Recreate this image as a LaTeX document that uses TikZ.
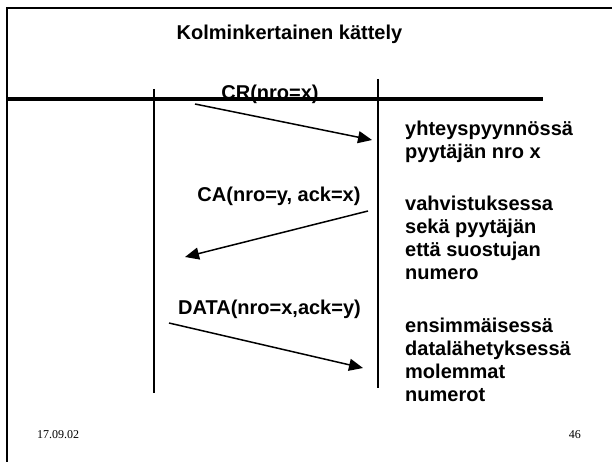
\documentclass[tikz,border=0pt]{standalone}
\usepackage{fontspec}
\setmainfont{Liberation Sans}
\newfontfamily\datefont{Liberation Serif}
\usetikzlibrary{arrows.meta,positioning}

\begin{document}
\begin{tikzpicture}[x=1pt,y=-1pt,
    every node/.style={inner sep=0pt},
    msgtext/.style={font=\fontsize{20}{23}\selectfont\bfseries, anchor=base},
    notetext/.style={font=\fontsize{20}{23}\selectfont\bfseries, anchor=north west, align=left},
    msgarrow/.style={line width=1.5pt, -{Triangle[length=14pt,width=12pt]}},
    lifeline/.style={line width=1.8pt},
    footer/.style={font=\datefont\fontsize{12}{14}\selectfont}]
    \useasboundingbox (0,0) rectangle (612,462);

    % =================== frame and title ===================
    \draw[line width=2.5pt] (612,8) -- (7,8) -- (7,462);
    \node[msgtext] (title) at (289.5,40) {Kolminkertainen kättely};
    \draw[line width=3.5pt] (7,99) -- (543,99);

    % =================== the two lifelines ===================
    \coordinate (lt) at (154,89);
    \coordinate (lb) at (154,393);
    \coordinate (rt) at (378,79);
    \coordinate (rb) at (378,388);
    \draw[lifeline] (lt) -- (lb);
    \draw[lifeline] (rt) -- (rb);

    % =================== messages ===================
    % connection request
    \node[msgtext] (cr) at (270,100) {CR(nro=x)};
    \coordinate (cr-a) at (195,104);
    \coordinate (cr-b) at (372,140);
    \draw[msgarrow] (cr-a) -- (cr-b);

    % connection accept
    \node[msgtext] (ca) at (279,202) {CA(nro=y, ack=x)};
    \coordinate (ca-a) at (368,211);
    \coordinate (ca-b) at (185,257);
    \draw[msgarrow] (ca-a) -- (ca-b);

    % first data
    \node[msgtext] (data) at (269.5,314) {DATA(nro=x,ack=y)};
    \coordinate (data-a) at (169,323);
    \coordinate (data-b) at (363,368);
    \draw[msgarrow] (data-a) -- (data-b);

    % =================== notes on the right ===================
    % top of each block = first baseline - 14.5
    \node[notetext] (note1) at (405,120.5) {yhteyspyynnössä\\pyytäjän nro x};
    \node[notetext] (note2) at (405,195.5) {vahvistuksessa\\sekä pyytäjän\\että suostujan\\numero};
    \node[notetext] (note3) at (405,317.5) {ensimmäisessä\\datalähetyksessä\\molemmat\\numerot};

    % footer
    \node[footer, anchor=base west] (date) at (37,438) {17.09.02};
    \node[footer, anchor=base east] (page) at (581,438) {46};
\end{tikzpicture}
\end{document}
